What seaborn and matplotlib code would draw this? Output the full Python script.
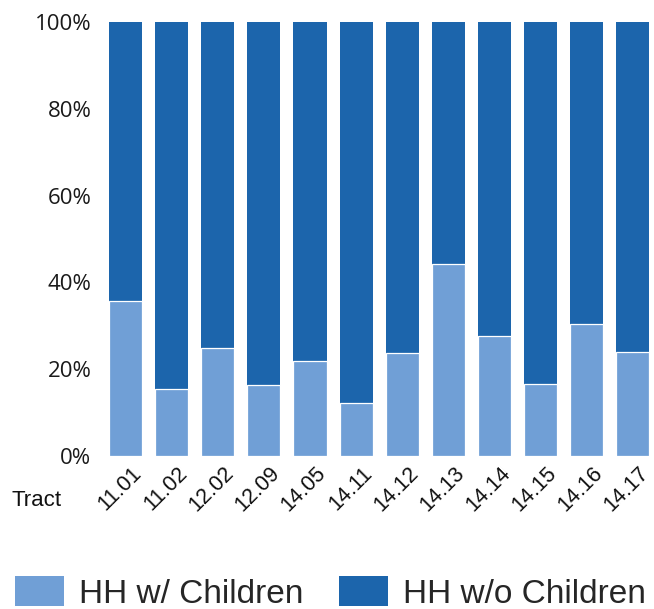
import matplotlib
matplotlib.use("Agg")
import matplotlib.pyplot as plt
import matplotlib.patches as mpatches
from matplotlib.ticker import PercentFormatter
from matplotlib.transforms import ScaledTranslation
import seaborn as sns
import pandas as pd

# Household composition by census tract (percent of households)
tracts = ["11.01", "11.02", "12.02", "12.09", "14.05", "14.11",
          "14.12", "14.13", "14.14", "14.15", "14.16", "14.17"]
pct_with_children = [35.7, 15.4, 25.0, 16.3, 22.0, 12.3,
                     23.7, 44.2, 27.7, 16.7, 30.4, 23.9]
pct_without_children = [64.3, 84.6, 75.0, 83.7, 78.0, 87.7,
                        76.3, 55.8, 72.3, 83.3, 69.6, 76.1]
series_labels = ["HH w/ Children", "HH w/o Children"]

light_blue = "#709fd6"
dark_blue = "#1c65ac"

df = pd.DataFrame({
    "tract": tracts,
    "with_children": pct_with_children,
    "without_children": pct_without_children,
})
df["total"] = df["with_children"] + df["without_children"]

sns.set_theme(style="white")
fig = plt.figure(figsize=(6.54, 6.09), dpi=100)
ax = fig.add_axes([102.5 / 654, 1 - 456 / 609, (654 - 102.5) / 654, 434 / 609])

# stacked bars: full-height segment first, lower segment drawn over it
sns.barplot(data=df, x="tract", y="total", color=dark_blue, saturation=1,
            width=0.72, ax=ax, linewidth=0)
sns.barplot(data=df, x="tract", y="with_children", color=light_blue, saturation=1,
            width=0.72, ax=ax, edgecolor="white", linewidth=0.9)

ax.set_xlim(-0.5, 11.46)
ax.set_ylim(0, 100)
ax.set_yticks([0, 20, 40, 60, 80, 100])
ax.yaxis.set_major_formatter(PercentFormatter(decimals=0))
for s in ax.spines.values():
    s.set_visible(False)
ax.tick_params(axis="both", length=0)
ax.tick_params(axis="y", pad=8)
ax.tick_params(axis="x", pad=10)

for lab in ax.get_yticklabels():
    lab.set_fontfamily(["Open Sans", "DejaVu Sans"])
    lab.set_fontsize(16)
    lab.set_color("#1a1a1a")

shift = ScaledTranslation(13 / 100, 0, fig.dpi_scale_trans)
for lab in ax.get_xticklabels():
    lab.set_fontfamily(["Liberation Sans"])
    lab.set_fontsize(15.5)
    lab.set_rotation(45)
    lab.set_ha("right")
    lab.set_va("center")
    lab.set_rotation_mode("anchor")
    lab.set_color("#111111")
    lab.set_transform(lab.get_transform() + shift)

ax.set_ylabel("")
ax.set_xlabel("Tract", fontsize=16, color="#111111",
              fontfamily=["Liberation Sans"])
ax.xaxis.set_label_coords((11 - 102.5) / 551.5, -(500 - 456) / 434)
ax.xaxis.label.set_ha("left")
ax.xaxis.label.set_va("center")

handles = [mpatches.Patch(facecolor=light_blue, edgecolor="none"),
           mpatches.Patch(facecolor=dark_blue, edgecolor="none")]
fig.legend(handles, series_labels, loc="lower left",
           bbox_to_anchor=(12 / 654, -4 / 609), ncol=2, frameon=False,
           borderpad=0.1, borderaxespad=0, handlelength=1.47, handleheight=1.0,
           handletextpad=0.45, columnspacing=1.05,
           prop={"family": "Liberation Sans", "size": 24})

fig.savefig("out.png", dpi=100)
